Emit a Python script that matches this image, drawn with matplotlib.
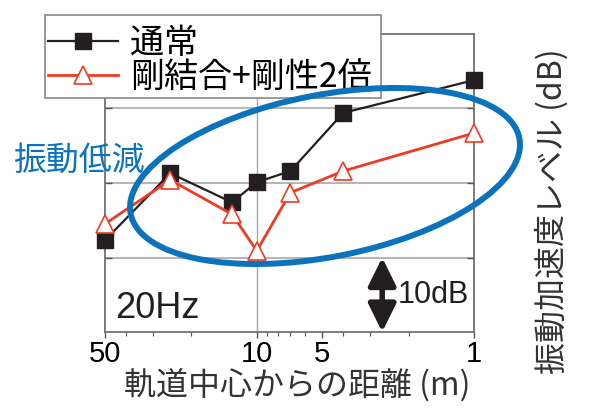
import matplotlib
matplotlib.use('Agg')
import matplotlib.pyplot as plt
from matplotlib.patches import Ellipse, Rectangle
from matplotlib.transforms import blended_transform_factory
from matplotlib.ticker import FixedLocator, NullFormatter

plt.rcParams['font.family'] = ['Noto Sans CJK JP', 'DejaVu Sans']

# data (distance in m, level in dB, arbitrary origin)
distance = [50, 25, 13, 10, 7, 4, 1]
level_normal = [12.3, 21.3, 17.4, 20.1, 21.6, 29.4, 33.8]
level_rigid = [14.5, 20.4, 15.8, 10.9, 18.7, 21.6, 26.7]
series_names = ['通常', '剛結合+剛性2倍']
xticks = [50, 10, 5, 1]
xtick_labels = ['50', '10', '5', '1']
minor_ticks = [40, 30, 20, 9, 8, 7, 6, 4, 3, 2]
grid_levels = [10, 20, 30]

BLUE = '#0B73BB'
RED = '#EE3B24'
BLACK = '#231F20'
NUM_FONT = 'Liberation Sans'
W, H = 589, 413

fig = plt.figure(figsize=(W / 100, H / 100), dpi=100)
ax = fig.add_axes([0.178, 0.196, 0.627, 0.722])
ax.set_xscale('log')
ax.set_xlim(50, 1)
ax.set_ylim(0, 40)

for g in grid_levels:
    ax.axhline(g, color='#A8A8A8', lw=1.2, zorder=1)
ax.axvline(10, color='#A8A8A8', lw=1.0, zorder=1)

ax.plot(distance, level_normal, color=BLACK, lw=1.6, marker='s', ms=11.5,
        mfc=BLACK, mec=BLACK, label=series_names[0], zorder=4, clip_on=False)
ax.plot(distance, level_rigid, color=RED, lw=2.0, marker='^', ms=13.5,
        mfc='white', mec=RED, mew=1.2, label=series_names[1], zorder=5, clip_on=False)

# axes styling
ax.set_xticks(xticks)
ax.set_xticklabels(xtick_labels, fontfamily=NUM_FONT, fontsize=21)
ax.xaxis.set_minor_locator(FixedLocator(minor_ticks))
ax.xaxis.set_minor_formatter(NullFormatter())
ax.tick_params(axis='x', which='major', direction='out', length=4, width=1, pad=2, color='#555555')
ax.tick_params(axis='x', which='minor', direction='out', length=3, width=0.8, color='#555555')
ax.set_yticks(grid_levels)
ax.tick_params(axis='y', which='major', left=True, right=True, direction='in',
               length=5, width=1, labelleft=False, color='#555555')
for s in ax.spines.values():
    s.set_color('#666666')
    s.set_linewidth(1.2)

# annotations
ax.text(0.027, 0.047, '20Hz', transform=ax.transAxes, fontfamily=NUM_FONT,
        fontsize=26, ha='left', va='baseline', color=BLACK)
ax.text(0.794, 0.097, '10dB', transform=ax.transAxes, fontfamily=NUM_FONT,
        fontsize=22, ha='left', va='baseline', color=BLACK)
trans = blended_transform_factory(ax.transAxes, ax.transData)
ax.annotate('', xy=(0.751, 0), xytext=(0.751, 10), xycoords=trans, textcoords=trans,
            arrowprops=dict(arrowstyle='<|-|>,head_length=0.85,head_width=0.42',
                            mutation_scale=20, lw=4, color=BLACK,
                            shrinkA=0, shrinkB=0))

fig.text(297 / W, 1 - 385 / H, '軌道中心からの距離 (m)', fontsize=23,
         ha='center', va='center', color='#333333')
fig.text(552 / W, 1 - 211 / H, '振動加速度レベル (dB)', fontsize=23,
         rotation=90, ha='center', va='center', color='#333333')
fig.text(13 / W, 1 - 161 / H, '振動低減', fontsize=23.7, color=BLUE,
         ha='left', va='center')

# legend: separate frame so the text sits where the original has it
frame = Rectangle((45 / W, 1 - 98 / H), 336 / W, 83 / H, transform=fig.transFigure,
                  facecolor='white', edgecolor='#888888', lw=1.2, zorder=4.5)
fig.add_artist(frame)
leg = fig.legend(loc='upper left', bbox_to_anchor=(45 / W, 1 - 23 / H),
                 fontsize=24.5, frameon=False, borderpad=0.1, labelspacing=-0.05,
                 handlelength=2.05, handletextpad=0.35, borderaxespad=0)
leg.set_zorder(5)

ell = Ellipse((3.25, 2.37), 3.96, 1.62, angle=11, transform=fig.dpi_scale_trans,
              fill=False, ec=BLUE, lw=4.3, zorder=6)
fig.add_artist(ell)

fig.savefig('out.png', dpi=100)
